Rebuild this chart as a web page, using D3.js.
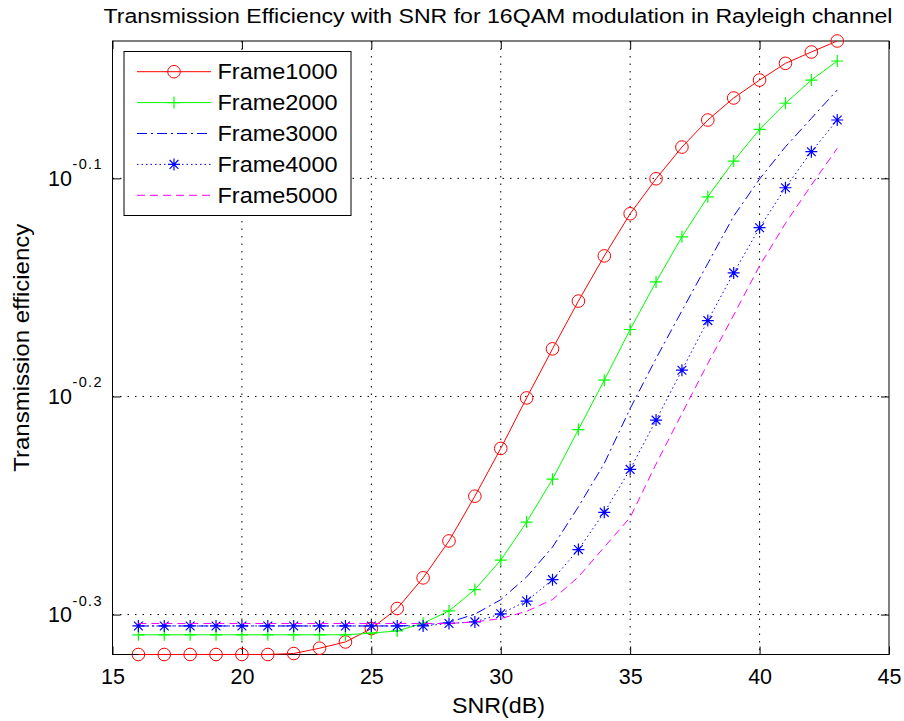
<!DOCTYPE html>
<html>
<head>
<meta charset="utf-8">
<script src="https://cdn.jsdelivr.net/npm/d3@7"></script>
<style>
  html, body { margin: 0; padding: 0; background: #fff; }
  svg { display: block; }
  text { font-family: "Liberation Sans", Arial, Helvetica, sans-serif; fill: #000; }
</style>
</head>
<body>
<svg id="chart" width="904" height="721"></svg>
<script>
// SNR sample points (dB)
const snr = [16, 17, 18, 19, 20, 21, 22, 23, 24, 25, 26, 27, 28, 29,
             30, 31, 32, 33, 34, 35, 36, 37, 38, 39, 40, 41, 42, 43];

// Transmission efficiency per frame length
const frame1000 = [0.4805, 0.4805, 0.4805, 0.4805, 0.4805, 0.4805, 0.4810, 0.4837, 0.4869, 0.4938,
                   0.5044, 0.5210, 0.5417, 0.5679, 0.5973, 0.6300, 0.6635, 0.6978, 0.7319, 0.7652,
                   0.7940, 0.8210, 0.8448, 0.8647, 0.8812, 0.8969, 0.9077, 0.9183];
const frame2000 = [0.4906, 0.4906, 0.4906, 0.4906, 0.4906, 0.4906, 0.4906, 0.4906, 0.4906, 0.4915,
                   0.4926, 0.4966, 0.5031, 0.5146, 0.5308, 0.5526, 0.5782, 0.6093, 0.6419, 0.6772,
                   0.7121, 0.7468, 0.7790, 0.8090, 0.8365, 0.8599, 0.8812, 0.8991];
const frame3000 = [0.4952, 0.4952, 0.4952, 0.4952, 0.4952, 0.4952, 0.4952, 0.4952, 0.4952, 0.4952,
                   0.4952, 0.4956, 0.4971, 0.5014, 0.5091, 0.5215, 0.5382, 0.5616, 0.5879, 0.6230,
                   0.6568, 0.6907, 0.7261, 0.7633, 0.7938, 0.8213, 0.8463, 0.8720];
const frame4000 = [0.4952, 0.4952, 0.4952, 0.4952, 0.4952, 0.4952, 0.4952, 0.4952, 0.4952, 0.4952,
                   0.4952, 0.4952, 0.4965, 0.4973, 0.5016, 0.5084, 0.5200, 0.5368, 0.5583, 0.5842,
                   0.6154, 0.6487, 0.6836, 0.7189, 0.7540, 0.7865, 0.8170, 0.8448];
const frame5000 = [0.4965, 0.4965, 0.4965, 0.4965, 0.4965, 0.4965, 0.4965, 0.4965, 0.4965, 0.4965,
                   0.4965, 0.4965, 0.4965, 0.4973, 0.4991, 0.5029, 0.5092, 0.5215, 0.5382, 0.5553,
                   0.5875, 0.6197, 0.6533, 0.6876, 0.7243, 0.7575, 0.7887, 0.8199];

const seriesNames = ["Frame1000", "Frame2000", "Frame3000", "Frame4000", "Frame5000"];

// Axis ticks
const xTicks = [15, 20, 25, 30, 35, 40, 45];
const yTickExponents = [-0.3, -0.2, -0.1];

const titleText = "Transmission Efficiency with SNR for 16QAM modulation in Rayleigh channel";
const xLabel = "SNR(dB)";
const yLabel = "Transmission efficiency";

// Line styles for each series
const styles = [
  { color: "#ff0000", dash: null,        marker: "circle" },
  { color: "#00ff00", dash: null,        marker: "plus" },
  { color: "#0000ff", dash: "10,4,2,4",  marker: null },
  { color: "#0000ff", dash: "1.5,3",     marker: "star" },
  { color: "#ff00ff", dash: "8,5",       marker: null }
];

const seriesData = [frame1000, frame2000, frame3000, frame4000, frame5000];

const svg = d3.select("#chart");
svg.append("rect").attr("width", 904).attr("height", 721).attr("fill", "#fff");

const box = { left: 112.5, right: 889, top: 41, bottom: 654.5 };

const x = d3.scaleLinear().domain([15, 45]).range([box.left, box.right]);
const yExtent = d3.extent(seriesData.flat());
const y = d3.scaleLog().domain(yExtent).range([box.bottom, box.top]);

const yTickValues = yTickExponents.map(e => Math.pow(10, e));

// Dotted grid
const grid = svg.append("g").attr("stroke", "#000").attr("stroke-width", 1)
  .attr("stroke-dasharray", "1.5,6").attr("fill", "none");
xTicks.filter(t => t > 15 && t < 45).forEach(t => {
  grid.append("line").attr("x1", x(t)).attr("x2", x(t))
    .attr("y1", box.top).attr("y2", box.bottom);
});
yTickValues.forEach(v => {
  grid.append("line").attr("x1", box.left).attr("x2", box.right)
    .attr("y1", y(v)).attr("y2", y(v));
});

// Axes with inward ticks on all four sides
const tickLen = 8;
const gx = svg.append("g").attr("transform", `translate(0,${box.bottom})`)
  .call(d3.axisBottom(x).tickValues(xTicks).tickSize(-tickLen).tickPadding(14).tickFormat(d3.format("d")));
const gxTop = svg.append("g").attr("transform", `translate(0,${box.top})`)
  .call(d3.axisTop(x).tickValues(xTicks).tickSize(-tickLen).tickFormat(""));
const gy = svg.append("g").attr("transform", `translate(${box.left},0)`)
  .call(d3.axisLeft(y).tickValues(yTickValues).tickSize(-tickLen).tickFormat(""));
const gyRight = svg.append("g").attr("transform", `translate(${box.right},0)`)
  .call(d3.axisRight(y).tickValues(yTickValues).tickSize(-tickLen).tickFormat(""));

[gx, gxTop, gy, gyRight].forEach(g => {
  g.select(".domain").remove();
  g.selectAll(".tick line").attr("stroke", "#000").attr("stroke-width", 1);
});
gx.selectAll(".tick text").attr("font-size", 21.5).attr("fill", "#000")
  .attr("font-family", "Liberation Sans, Arial, sans-serif");

// Box
svg.append("rect").attr("x", box.left).attr("y", box.top)
  .attr("width", box.right - box.left).attr("height", box.bottom - box.top)
  .attr("fill", "none").attr("stroke", "#000").attr("stroke-width", 1);

// Y tick labels with power-of-ten superscripts
const yLabels = svg.append("g");
yTickExponents.forEach(e => {
  const yy = y(Math.pow(10, e));
  yLabels.append("text").attr("x", 72).attr("y", yy + 7.5)
    .attr("text-anchor", "end").attr("font-size", 21.5).text("10");
  yLabels.append("text").attr("x", 72.5).attr("y", yy - 9)
    .attr("font-size", 14.5).attr("textLength", 29).text(String(e));
});

// Series lines
const line = d3.line().x((d, i) => x(snr[i])).y(d => y(d));
const plot = svg.append("g");

function drawMarker(g, type, cx, cy, color) {
  if (type === "circle") {
    g.append("circle").attr("cx", cx).attr("cy", cy).attr("r", 6.3)
      .attr("fill", "none").attr("stroke", color).attr("stroke-width", 1);
  } else if (type === "plus") {
    g.append("path").attr("d", `M${cx - 6},${cy}H${cx + 6}M${cx},${cy - 6}V${cy + 6}`)
      .attr("stroke", color).attr("stroke-width", 1.2).attr("fill", "none");
  } else if (type === "star") {
    const a = 6, b = 4.4;
    g.append("path")
      .attr("d", `M${cx - a},${cy}H${cx + a}M${cx},${cy - a}V${cy + a}` +
                 `M${cx - b},${cy - b}L${cx + b},${cy + b}M${cx - b},${cy + b}L${cx + b},${cy - b}`)
      .attr("stroke", color).attr("stroke-width", 1.2).attr("fill", "none");
  }
}

seriesData.forEach((vals, k) => {
  const st = styles[k];
  const g = plot.append("g");
  g.append("path").datum(vals).attr("d", line)
    .attr("fill", "none").attr("stroke", st.color).attr("stroke-width", 1)
    .attr("stroke-dasharray", st.dash);
  if (st.marker) {
    vals.forEach((v, i) => drawMarker(g, st.marker, x(snr[i]), y(v), st.color));
  }
});

// Legend
const lg = svg.append("g");
const lgBox = { x: 124, y: 51.5, w: 227, h: 164 };
lg.append("rect").attr("x", lgBox.x).attr("y", lgBox.y).attr("width", lgBox.w).attr("height", lgBox.h)
  .attr("fill", "#fff").attr("stroke", "#000").attr("stroke-width", 1);
seriesNames.forEach((name, k) => {
  const st = styles[k];
  const cy = 71.7 + k * 30.9;
  lg.append("line").attr("x1", 137).attr("x2", 211).attr("y1", cy).attr("y2", cy)
    .attr("stroke", st.color).attr("stroke-width", 1).attr("stroke-dasharray", st.dash);
  if (st.marker) drawMarker(lg, st.marker, 174, cy, st.color);
  lg.append("text").attr("x", 217.5).attr("y", cy + 7.5).attr("font-size", 21.5)
    .attr("textLength", 120).attr("lengthAdjust", "spacingAndGlyphs").text(name);
});

// Titles
svg.append("text").attr("x", 103.5).attr("y", 22.5)
  .attr("font-size", 20).attr("textLength", 789).attr("lengthAdjust", "spacingAndGlyphs")
  .text(titleText);
svg.append("text").attr("x", 452).attr("y", 712.5)
  .attr("font-size", 21.5).attr("textLength", 93).attr("lengthAdjust", "spacingAndGlyphs")
  .text(xLabel);
svg.append("text").attr("transform", `translate(29,${(box.top + box.bottom) / 2 + 124}) rotate(-90)`)
  .attr("font-size", 21.5).attr("textLength", 248).attr("lengthAdjust", "spacingAndGlyphs")
  .text(yLabel);
</script>
</body>
</html>
